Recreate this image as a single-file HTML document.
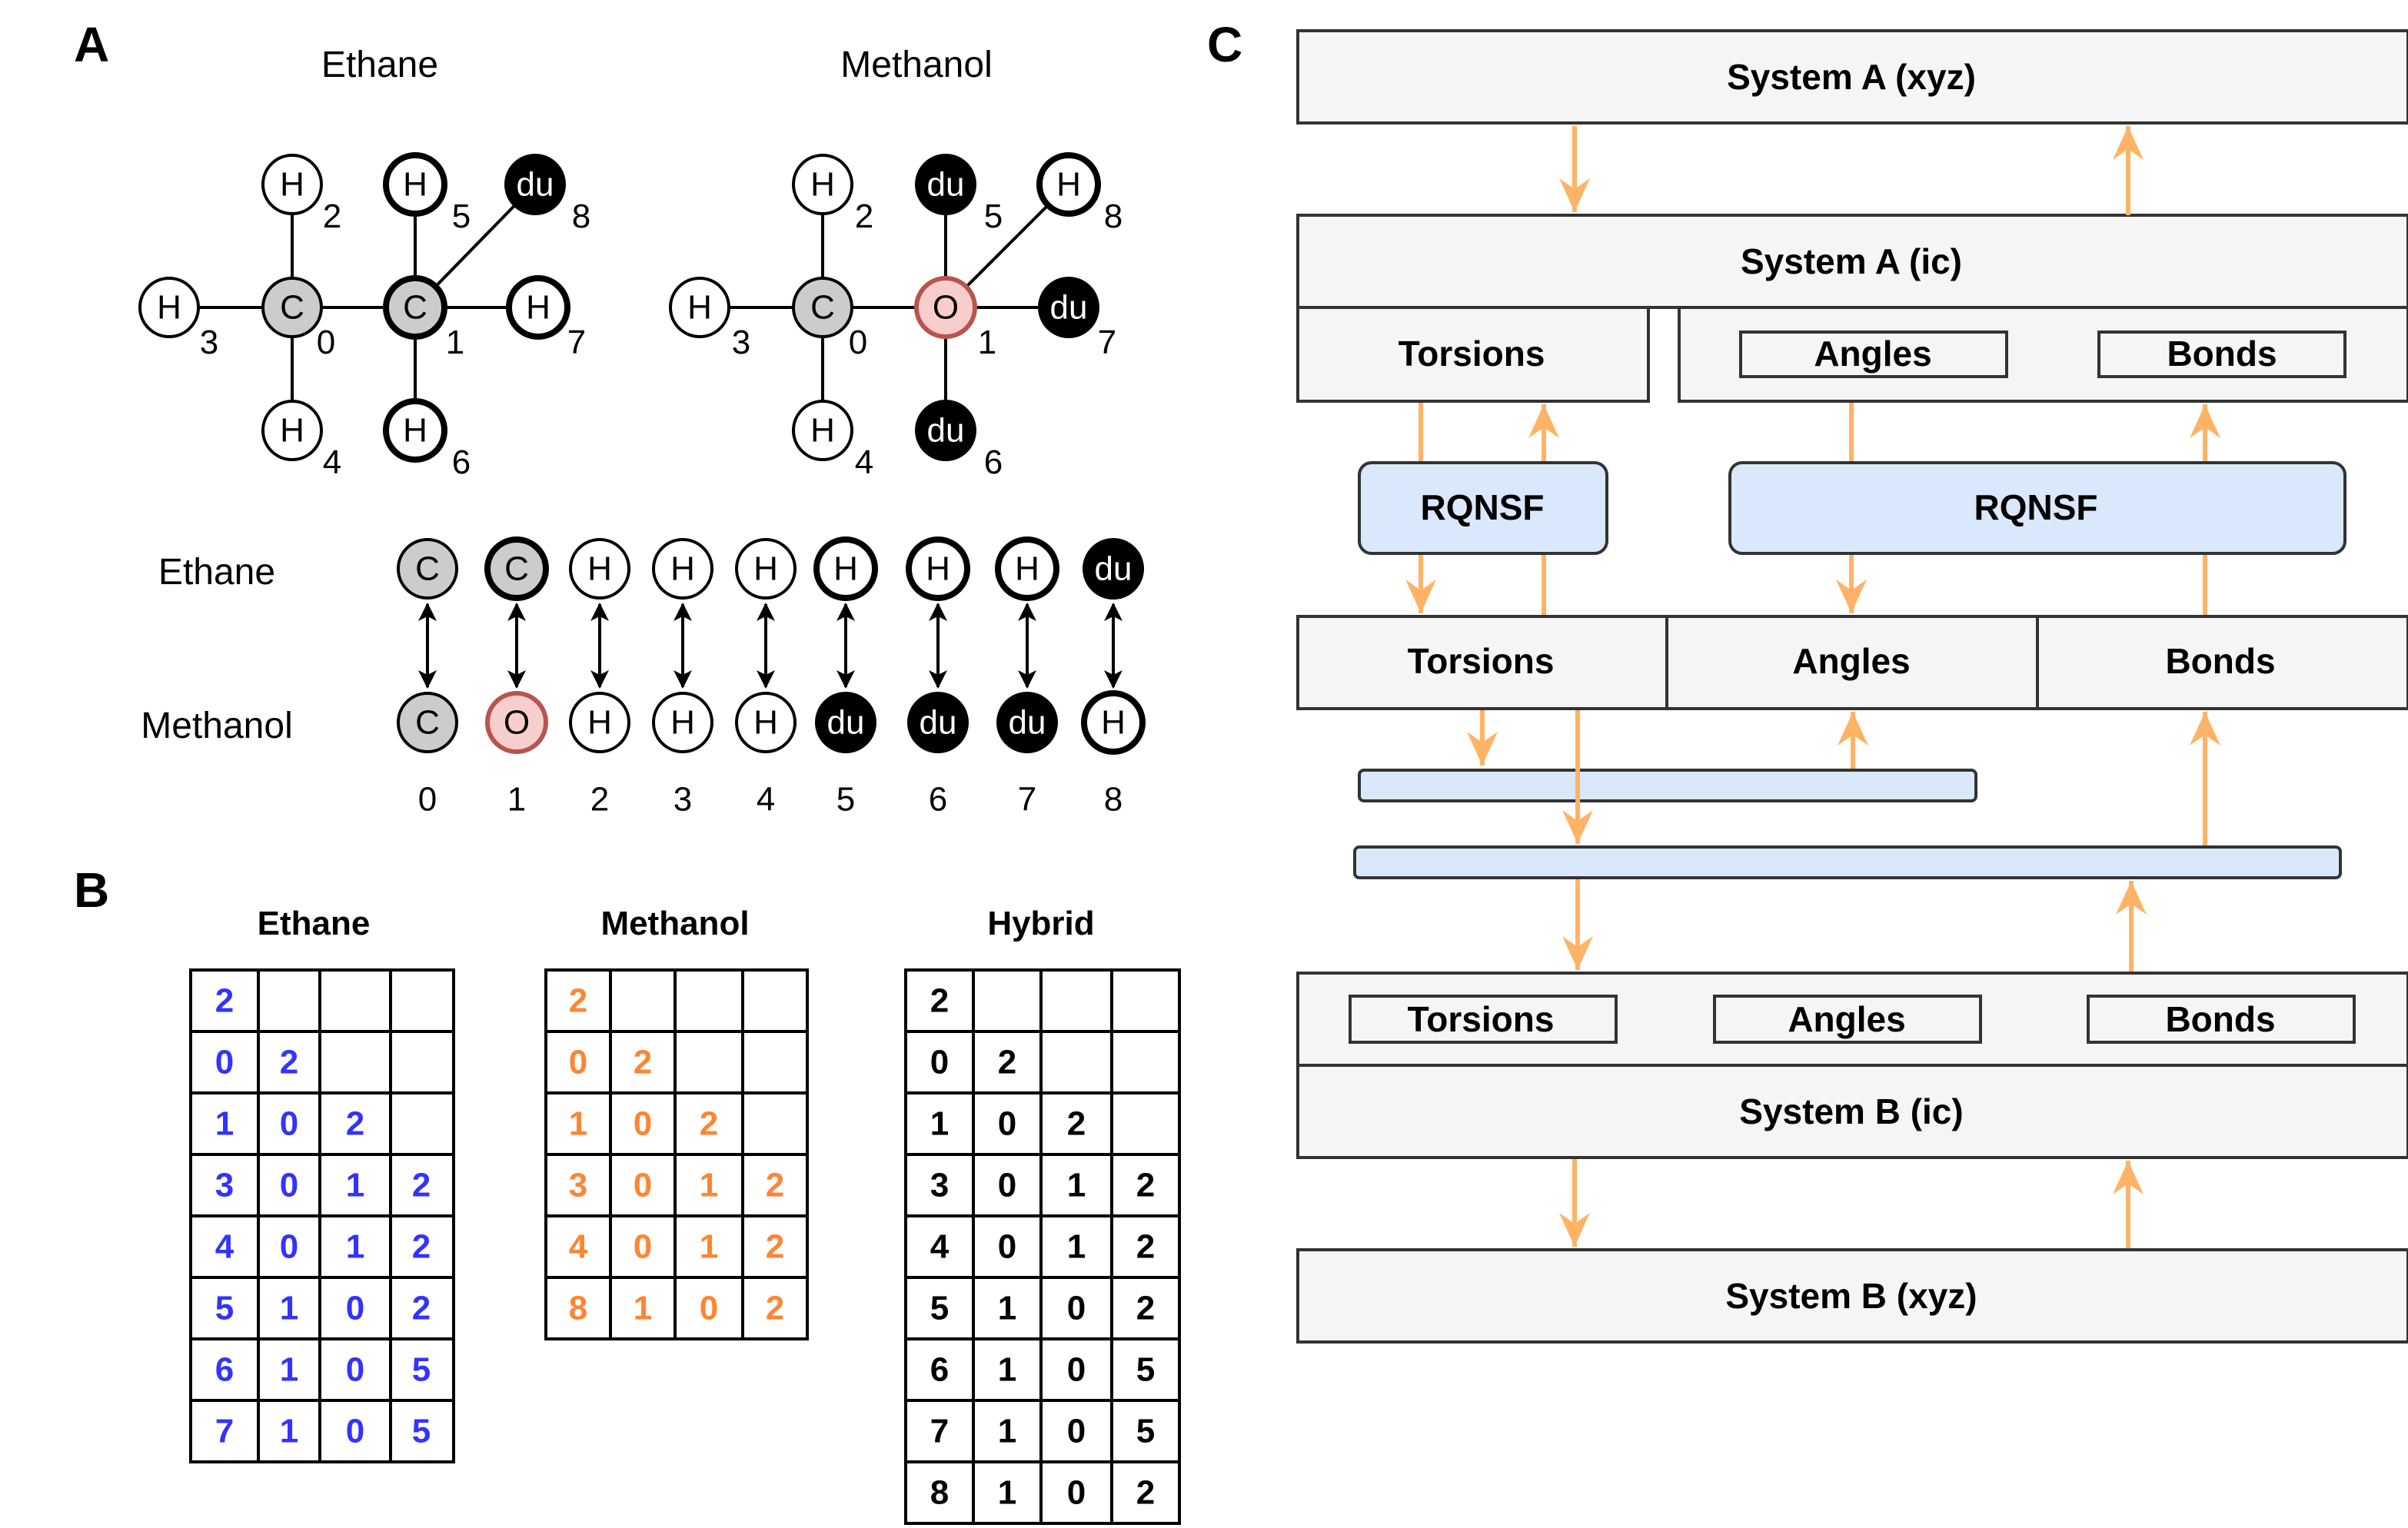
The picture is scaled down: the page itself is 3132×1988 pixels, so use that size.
<!DOCTYPE html>
<html><head><meta charset="utf-8"><style>
html,body{margin:0;padding:0;background:#fff;}
svg{display:block;}
text{font-family:"Liberation Sans",sans-serif;}
</style></head><body>
<svg width="3132" height="1988" viewBox="0 0 1566 994" xmlns="http://www.w3.org/2000/svg">
<defs>
<marker id="ob" markerWidth="12" markerHeight="12" refX="11" refY="6" orient="auto-start-reverse" markerUnits="userSpaceOnUse" viewBox="0 0 12 12">
<path d="M0,0 L12,6 L0,12 L3,6 z" fill="#000"/></marker>
<marker id="oa" markerWidth="24" markerHeight="24" refX="22" refY="12" orient="auto" markerUnits="userSpaceOnUse" viewBox="0 0 24 24">
<path d="M0,2 L22,12 L0,22 L7,12 z" fill="#ffb366"/></marker>
</defs>
<rect width="1566" height="994" fill="#fff"/>
<g font-weight="bold" font-size="32">
<text x="48" y="40">A</text><text x="48" y="590">B</text><text x="785" y="40">C</text></g>
<g font-size="24" text-anchor="middle">
<text x="247" y="50">Ethane</text><text x="596" y="50">Methanol</text>
<text x="141" y="380">Ethane</text><text x="141" y="480">Methanol</text></g>

<g stroke="#000" stroke-width="2">
<line x1="110" y1="200" x2="350" y2="200"/>
<line x1="190" y1="120" x2="190" y2="280"/>
<line x1="270" y1="120" x2="270" y2="280"/>
<line x1="270" y1="200" x2="348" y2="120"/>
<line x1="455" y1="200" x2="695" y2="200"/>
<line x1="535" y1="120" x2="535" y2="280"/>
<line x1="615" y1="120" x2="615" y2="280"/>
<line x1="615" y1="200" x2="695" y2="120"/>
</g>
<g font-size="22" text-anchor="middle" dominant-baseline="central">
<circle cx="110" cy="200" r="19" fill="#fff" stroke="#000" stroke-width="2"/><text x="110" y="200">H</text>
<circle cx="190" cy="120" r="19" fill="#fff" stroke="#000" stroke-width="2"/><text x="190" y="120">H</text>
<circle cx="190" cy="280" r="19" fill="#fff" stroke="#000" stroke-width="2"/><text x="190" y="280">H</text>
<circle cx="190" cy="200" r="19" fill="#ccc" stroke="#000" stroke-width="2"/><text x="190" y="200">C</text>
<circle cx="270" cy="200" r="19" fill="#ccc" stroke="#000" stroke-width="4"/><text x="270" y="200">C</text>
<circle cx="270" cy="120" r="19" fill="#fff" stroke="#000" stroke-width="4"/><text x="270" y="120">H</text>
<circle cx="270" cy="280" r="19" fill="#fff" stroke="#000" stroke-width="4"/><text x="270" y="280">H</text>
<circle cx="350" cy="200" r="19" fill="#fff" stroke="#000" stroke-width="4"/><text x="350" y="200">H</text>
<circle cx="348" cy="120" r="20" fill="#000"/><text x="348" y="120" fill="#fff">du</text>
<circle cx="455" cy="200" r="19" fill="#fff" stroke="#000" stroke-width="2"/><text x="455" y="200">H</text>
<circle cx="535" cy="120" r="19" fill="#fff" stroke="#000" stroke-width="2"/><text x="535" y="120">H</text>
<circle cx="535" cy="280" r="19" fill="#fff" stroke="#000" stroke-width="2"/><text x="535" y="280">H</text>
<circle cx="535" cy="200" r="19" fill="#ccc" stroke="#000" stroke-width="2"/><text x="535" y="200">C</text>
<circle cx="615" cy="200" r="19" fill="#f8cecc" stroke="#b85450" stroke-width="3"/><text x="615" y="200">O</text>
<circle cx="615" cy="120" r="20" fill="#000"/><text x="615" y="120" fill="#fff">du</text>
<circle cx="615" cy="280" r="20" fill="#000"/><text x="615" y="280" fill="#fff">du</text>
<circle cx="695" cy="200" r="20" fill="#000"/><text x="695" y="200" fill="#fff">du</text>
<circle cx="695" cy="120" r="19" fill="#fff" stroke="#000" stroke-width="4"/><text x="695" y="120">H</text>
</g>
<g font-size="22" text-anchor="middle">
<text x="216" y="148">2</text><text x="136" y="230">3</text><text x="212" y="230">0</text><text x="216" y="308">4</text>
<text x="300" y="148">5</text><text x="296" y="230">1</text><text x="375" y="230">7</text><text x="300" y="308">6</text><text x="378" y="148">8</text>
<text x="562" y="148">2</text><text x="482" y="230">3</text><text x="558" y="230">0</text><text x="562" y="308">4</text>
<text x="646" y="148">5</text><text x="642" y="230">1</text><text x="720" y="230">7</text><text x="646" y="308">6</text><text x="724" y="148">8</text>
</g>

<g stroke="#000" stroke-width="2">
<line x1="278" y1="393" x2="278" y2="447" marker-end="url(#ob)" marker-start="url(#ob)"/>
<line x1="336" y1="393" x2="336" y2="447" marker-end="url(#ob)" marker-start="url(#ob)"/>
<line x1="390" y1="393" x2="390" y2="447" marker-end="url(#ob)" marker-start="url(#ob)"/>
<line x1="444" y1="393" x2="444" y2="447" marker-end="url(#ob)" marker-start="url(#ob)"/>
<line x1="498" y1="393" x2="498" y2="447" marker-end="url(#ob)" marker-start="url(#ob)"/>
<line x1="550" y1="393" x2="550" y2="447" marker-end="url(#ob)" marker-start="url(#ob)"/>
<line x1="610" y1="393" x2="610" y2="447" marker-end="url(#ob)" marker-start="url(#ob)"/>
<line x1="668" y1="393" x2="668" y2="447" marker-end="url(#ob)" marker-start="url(#ob)"/>
<line x1="724" y1="393" x2="724" y2="447" marker-end="url(#ob)" marker-start="url(#ob)"/>
</g>
<g font-size="22" text-anchor="middle" dominant-baseline="central">
<circle cx="278" cy="370" r="19" fill="#ccc" stroke="#000" stroke-width="2"/><text x="278" y="370">C</text>
<circle cx="336" cy="370" r="19" fill="#ccc" stroke="#000" stroke-width="4"/><text x="336" y="370">C</text>
<circle cx="390" cy="370" r="19" fill="#fff" stroke="#000" stroke-width="2"/><text x="390" y="370">H</text>
<circle cx="444" cy="370" r="19" fill="#fff" stroke="#000" stroke-width="2"/><text x="444" y="370">H</text>
<circle cx="498" cy="370" r="19" fill="#fff" stroke="#000" stroke-width="2"/><text x="498" y="370">H</text>
<circle cx="550" cy="370" r="19" fill="#fff" stroke="#000" stroke-width="4"/><text x="550" y="370">H</text>
<circle cx="610" cy="370" r="19" fill="#fff" stroke="#000" stroke-width="4"/><text x="610" y="370">H</text>
<circle cx="668" cy="370" r="19" fill="#fff" stroke="#000" stroke-width="4"/><text x="668" y="370">H</text>
<circle cx="724" cy="370" r="20" fill="#000"/><text x="724" y="370" fill="#fff">du</text>
<circle cx="278" cy="470" r="19" fill="#ccc" stroke="#000" stroke-width="2"/><text x="278" y="470">C</text>
<circle cx="336" cy="470" r="19" fill="#f8cecc" stroke="#b85450" stroke-width="3"/><text x="336" y="470">O</text>
<circle cx="390" cy="470" r="19" fill="#fff" stroke="#000" stroke-width="2"/><text x="390" y="470">H</text>
<circle cx="444" cy="470" r="19" fill="#fff" stroke="#000" stroke-width="2"/><text x="444" y="470">H</text>
<circle cx="498" cy="470" r="19" fill="#fff" stroke="#000" stroke-width="2"/><text x="498" y="470">H</text>
<circle cx="550" cy="470" r="20" fill="#000"/><text x="550" y="470" fill="#fff">du</text>
<circle cx="610" cy="470" r="20" fill="#000"/><text x="610" y="470" fill="#fff">du</text>
<circle cx="668" cy="470" r="20" fill="#000"/><text x="668" y="470" fill="#fff">du</text>
<circle cx="724" cy="470" r="19" fill="#fff" stroke="#000" stroke-width="4"/><text x="724" y="470">H</text>
<text x="278" y="520">0</text><text x="336" y="520">1</text><text x="390" y="520">2</text><text x="444" y="520">3</text><text x="498" y="520">4</text><text x="550" y="520">5</text><text x="610" y="520">6</text><text x="668" y="520">7</text><text x="724" y="520">8</text>
</g>

<g font-size="22" font-weight="bold" text-anchor="middle">
<text x="204" y="608">Ethane</text><text x="439" y="608">Methanol</text><text x="677" y="608">Hybrid</text></g>
<g fill="none" stroke="#000" stroke-width="2">
<rect x="124" y="631" width="171" height="320"/>
<path d="M168,631V951M208,631V951M254,631V951M124,671H295M124,711H295M124,751H295M124,791H295M124,831H295M124,871H295M124,911H295"/>
<rect x="355" y="631" width="170" height="240"/>
<path d="M397,631V871M439,631V871M483,631V871M355,671H525M355,711H525M355,751H525M355,791H525M355,831H525"/>
<rect x="589" y="631" width="178" height="360"/>
<path d="M633,631V991M677,631V991M723,631V991M589,671H767M589,711H767M589,751H767M589,791H767M589,831H767M589,871H767M589,911H767M589,951H767"/>
</g>
<g font-size="22" font-weight="bold" text-anchor="middle" dominant-baseline="central">
<g fill="#3333ff">
<text x="146" y="651">2</text>
<text x="146" y="691">0</text><text x="188" y="691">2</text>
<text x="146" y="731">1</text><text x="188" y="731">0</text><text x="231" y="731">2</text>
<text x="146" y="771">3</text><text x="188" y="771">0</text><text x="231" y="771">1</text><text x="274" y="771">2</text>
<text x="146" y="811">4</text><text x="188" y="811">0</text><text x="231" y="811">1</text><text x="274" y="811">2</text>
<text x="146" y="851">5</text><text x="188" y="851">1</text><text x="231" y="851">0</text><text x="274" y="851">2</text>
<text x="146" y="891">6</text><text x="188" y="891">1</text><text x="231" y="891">0</text><text x="274" y="891">5</text>
<text x="146" y="931">7</text><text x="188" y="931">1</text><text x="231" y="931">0</text><text x="274" y="931">5</text>
</g>
<g fill="#ff8533">
<text x="376" y="651">2</text>
<text x="376" y="691">0</text><text x="418" y="691">2</text>
<text x="376" y="731">1</text><text x="418" y="731">0</text><text x="461" y="731">2</text>
<text x="376" y="771">3</text><text x="418" y="771">0</text><text x="461" y="771">1</text><text x="504" y="771">2</text>
<text x="376" y="811">4</text><text x="418" y="811">0</text><text x="461" y="811">1</text><text x="504" y="811">2</text>
<text x="376" y="851">8</text><text x="418" y="851">1</text><text x="461" y="851">0</text><text x="504" y="851">2</text>
</g>
<g fill="#000">
<text x="611" y="651">2</text>
<text x="611" y="691">0</text><text x="655" y="691">2</text>
<text x="611" y="731">1</text><text x="655" y="731">0</text><text x="700" y="731">2</text>
<text x="611" y="771">3</text><text x="655" y="771">0</text><text x="700" y="771">1</text><text x="745" y="771">2</text>
<text x="611" y="811">4</text><text x="655" y="811">0</text><text x="700" y="811">1</text><text x="745" y="811">2</text>
<text x="611" y="851">5</text><text x="655" y="851">1</text><text x="700" y="851">0</text><text x="745" y="851">2</text>
<text x="611" y="891">6</text><text x="655" y="891">1</text><text x="700" y="891">0</text><text x="745" y="891">5</text>
<text x="611" y="931">7</text><text x="655" y="931">1</text><text x="700" y="931">0</text><text x="745" y="931">5</text>
<text x="611" y="971">8</text><text x="655" y="971">1</text><text x="700" y="971">0</text><text x="745" y="971">2</text>
</g>
</g>

<g stroke="#333" stroke-width="2" fill="#f5f5f5">
<rect x="844" y="20" width="722" height="60"/>
<rect x="844" y="140" width="722" height="60"/>
<rect x="844" y="200" width="228" height="61"/>
<rect x="1092" y="200" width="474" height="61"/>
<rect x="1132" y="216" width="173" height="29"/>
<rect x="1365" y="216" width="160" height="29"/>
<rect x="884" y="301" width="161" height="59" rx="8" fill="#dae8fc"/>
<rect x="1125" y="301" width="400" height="59" rx="8" fill="#dae8fc"/>
<rect x="844" y="401" width="240" height="60"/>
<rect x="1084" y="401" width="241" height="60"/>
<rect x="1325" y="401" width="241" height="60"/>
<rect x="884" y="501" width="401" height="20" rx="3" fill="#dae8fc"/>
<rect x="881" y="551" width="641" height="20" rx="3" fill="#dae8fc"/>
<rect x="844" y="633" width="722" height="60"/>
<rect x="844" y="693" width="722" height="60"/>
<rect x="878" y="648" width="173" height="30"/>
<rect x="1115" y="648" width="173" height="30"/>
<rect x="1358" y="648" width="173" height="30"/>
<rect x="844" y="813" width="722" height="60"/>
</g>
<g font-size="23" font-weight="bold" text-anchor="middle" dominant-baseline="central">
<text x="1204" y="50">System A (xyz)</text>
<text x="1204" y="170">System A (ic)</text>
<text x="957" y="230">Torsions</text><text x="1218" y="230">Angles</text><text x="1445" y="230">Bonds</text>
<text x="964" y="330">RQNSF</text><text x="1324" y="330">RQNSF</text>
<text x="963" y="430">Torsions</text><text x="1204" y="430">Angles</text><text x="1444" y="430">Bonds</text>
<text x="963" y="663">Torsions</text><text x="1201" y="663">Angles</text><text x="1444" y="663">Bonds</text>
<text x="1204" y="723">System B (ic)</text>
<text x="1204" y="843">System B (xyz)</text>
</g>
<g stroke="#ffb366" stroke-width="3" fill="none">
<line x1="1024" y1="82" x2="1024" y2="138" marker-end="url(#oa)"/>
<line x1="1384" y1="140" x2="1384" y2="82" marker-end="url(#oa)"/>
<line x1="924" y1="262" x2="924" y2="300"/>
<line x1="924" y1="361" x2="924" y2="399" marker-end="url(#oa)"/>
<line x1="1004" y1="300" x2="1004" y2="263" marker-end="url(#oa)"/>
<line x1="1004" y1="400" x2="1004" y2="361"/>
<line x1="1204" y1="262" x2="1204" y2="300"/>
<line x1="1204" y1="361" x2="1204" y2="399" marker-end="url(#oa)"/>
<line x1="1434" y1="300" x2="1434" y2="263" marker-end="url(#oa)"/>
<line x1="1434" y1="400" x2="1434" y2="361"/>
<line x1="964" y1="462" x2="964" y2="498" marker-end="url(#oa)"/>
<line x1="1026" y1="462" x2="1026" y2="549" marker-end="url(#oa)"/>
<line x1="1205" y1="500" x2="1205" y2="463" marker-end="url(#oa)"/>
<line x1="1434" y1="550" x2="1434" y2="463" marker-end="url(#oa)"/>
<line x1="1026" y1="572" x2="1026" y2="631" marker-end="url(#oa)"/>
<line x1="1386" y1="632" x2="1386" y2="573" marker-end="url(#oa)"/>
<line x1="1024" y1="754" x2="1024" y2="811" marker-end="url(#oa)"/>
<line x1="1384" y1="812" x2="1384" y2="755" marker-end="url(#oa)"/>
</g>
</svg>
</body></html>
